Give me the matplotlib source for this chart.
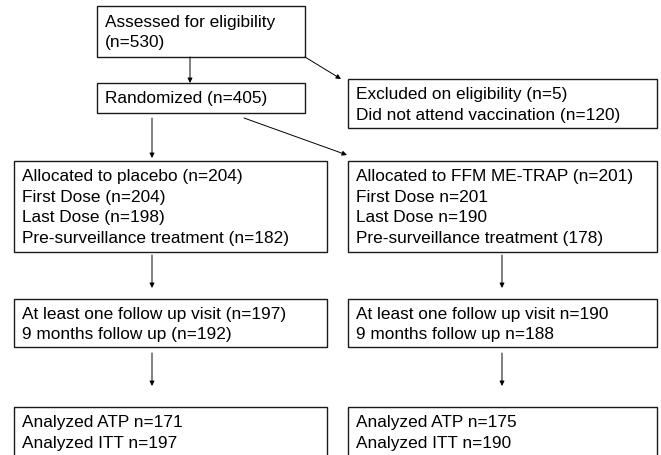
# -*- coding: utf-8 -*-
"""Trial flow diagram (CONSORT style) — placebo vs FFM ME-TRAP."""
import matplotlib.pyplot as plt
import matplotlib as mpl
from matplotlib.patches import Rectangle

mpl.rcParams.update({
    'font.family': 'Liberation Sans',
    'font.size': 12.4,
})

# Box texts
assessed = ['Assessed for eligibility', '(n=530)']
randomized = ['Randomized (n=405)']
excluded = ['Excluded on eligibility (n=5)', 'Did not attend vaccination (n=120)']
placebo_alloc = ['Allocated to placebo (n=204)', 'First Dose (n=204)',
                 'Last Dose (n=198)', 'Pre-surveillance treatment (n=182)']
vaccine_alloc = ['Allocated to FFM ME-TRAP (n=201)', 'First Dose n=201',
                 'Last Dose n=190', 'Pre-surveillance treatment (178)']
placebo_follow = ['At least one follow up visit (n=197)', '9 months follow up (n=192)']
vaccine_follow = ['At least one follow up visit n=190', '9 months follow up n=188']
placebo_analysis = ['Analyzed ATP n=171', 'Analyzed ITT n=197']
vaccine_analysis = ['Analyzed ATP n=175', 'Analyzed ITT n=190']

W, H = 661, 455
fig = plt.figure(figsize=(W / 100, H / 100), dpi=100)
ax = fig.add_axes([0, 0, 1, 1])
ax.set_xlim(0, W); ax.set_ylim(H, 0); ax.axis('off')

LINE = 20.6  # line pitch in px
PAD = 8


def box(x0, y0, x1, y1, lines, first_y):
    ax.add_patch(Rectangle((x0, y0), x1 - x0, y1 - y0, fill=False,
                           edgecolor='#1a1a1a', lw=1.0))
    for i, s in enumerate(lines):
        ax.text(x0 + PAD, first_y + i * LINE, s, ha='left', va='center',
                color='black')


def arrow(x0, y0, x1, y1):
    ax.annotate('', xy=(x1, y1), xytext=(x0, y0),
                arrowprops=dict(arrowstyle='-|>', color='black', lw=0.7,
                                mutation_scale=7, shrinkA=0, shrinkB=0))


L0, L1 = 14, 327      # left column
R0, R1 = 348, 657     # right column

box(97, 6, 305, 57, assessed, 22)
box(97, 83, 305, 113, randomized, 98.5)
box(R0, 79, R1, 128, excluded, 94.5)
box(L0, 161, L1, 252, placebo_alloc, 176.5)
box(R0, 161, R1, 252, vaccine_alloc, 176.5)
box(L0, 299, L1, 347, placebo_follow, 314)
box(R0, 299, R1, 347, vaccine_follow, 314)
box(L0, 407, L1, 480, placebo_analysis, 423)
box(R0, 407, R1, 480, vaccine_analysis, 423)

arrow(190, 57, 190, 83)
arrow(305, 57, 341, 79)
arrow(152, 118, 152, 158)
arrow(244, 118, 347, 155)
for x in (152, 502):
    arrow(x, 255, x, 288)
    arrow(x, 353, x, 386)

fig.savefig('out.png', dpi=100)
